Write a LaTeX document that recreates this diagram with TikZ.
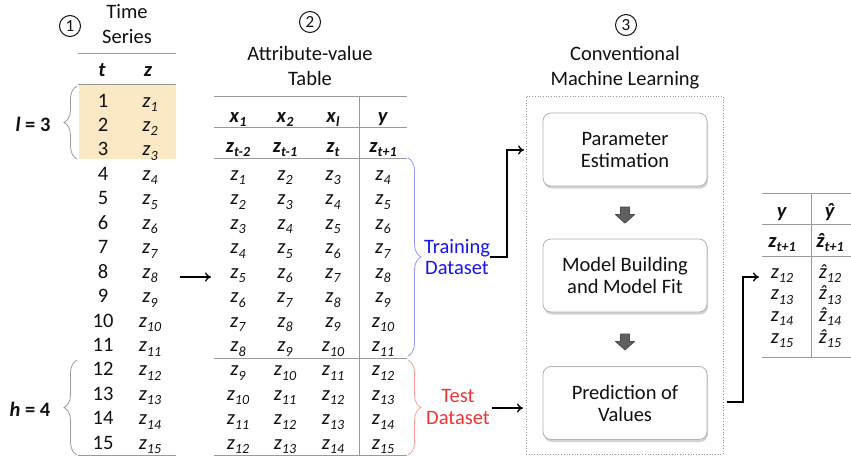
\documentclass[tikz,border=0pt]{standalone}
\usepackage{fontspec}
\setmainfont{Carlito}
\usetikzlibrary{decorations.pathreplacing,shadows,arrows.meta}
\definecolor{txt}{HTML}{111111}
\definecolor{rule}{HTML}{9A9A9A}
\definecolor{hlorange}{HTML}{FBE8C4}
\definecolor{tblue}{HTML}{1414F0}
\definecolor{tred}{HTML}{F03434}
\definecolor{bblue}{HTML}{9494FF}
\definecolor{bred}{HTML}{FF9A9A}
\newcommand\subfont{\fontsize{14}{14}\selectfont}
\newcommand\zi[1]{\textit{z}\raisebox{-4.5pt}{\subfont\textit{#1}}}
\newcommand\zb[1]{\textbf{\textit{z}\raisebox{-4.5pt}{\subfont\textit{#1}}}}
\newcommand\xb[1]{\textbf{\textit{x}\raisebox{-4.5pt}{\subfont\textit{#1}}}}
\newcommand\hatit[1]{\ooalign{\textit{#1}\cr\hidewidth\textit{\kern1pt\char"02C6}\hidewidth\cr}}
\newcommand\zh[1]{\hatit{z}\raisebox{-4.5pt}{\subfont\textit{#1}}}
\newcommand\zhb[1]{\textbf{\hatit{z}\raisebox{-4.5pt}{\subfont\textit{#1}}}}
\begin{document}
\begin{tikzpicture}[x=1pt,y=-1pt,
  txtn/.style={text=txt,font=\fontsize{20.5}{24}\selectfont,inner sep=0pt,anchor=base},
  ttl/.style={text=txt,font=\fontsize{20.5}{24}\selectfont,inner sep=0pt,anchor=base},
  rl/.style={draw=rule,line width=1pt},
  num/.style={circle,draw=txt,line width=1pt,minimum size=21pt,inner sep=0pt,text=txt,font=\fontsize{17}{17}\selectfont},
  gbrace/.style={draw=rule,line width=0.8pt,decorate,decoration={brace,amplitude=13pt}},
  arr/.style={-{To[length=6pt,width=9pt]},line width=1.3pt,black},
  stagebox/.style={rounded corners=8pt,draw=gray!60,fill=white,line width=0.8pt,
     drop shadow={shadow xshift=1pt,shadow yshift=-2.5pt,opacity=0.35},
     minimum width=164pt,minimum height=73pt,align=center,text=txt,
     font=\fontsize{20.5}{22}\selectfont},
  blk/.style={fill=gray!75!black,draw=black!70,line width=0.8pt,line join=round}]
\useasboundingbox (0,0) rectangle (851,456);
\fill[white] (0,0) rectangle (851,456);

% ---------- Table 1 ----------
\node[num] (c1) at (70,26) {1};
\node[ttl] (ts1) at (127,18) {Time};
\node[ttl] (ts2) at (127,43) {Series};
\fill[hlorange] (79,85) rectangle (176,159);
\draw[rl] (78,53) -- (176,53);
\draw[rl] (78,84.5) -- (176,84.5);
\draw[rl] (78,455) -- (176,455);
\node[txtn] (ht) at (102,76) {\textbf{\textit{t}}};
\node[txtn] (hz) at (148,76) {\textbf{\textit{z}}};
\foreach \i in {1,...,15}{
  \node[txtn] (t\i) at (103,{107+(\i-1)*24.45}) {\i};
  \node[txtn] (z\i) at (150,{107+(\i-1)*24.45}) {\zi{\i}};
}
\draw[gbrace] (77,159) -- (77,86);
\draw[gbrace] (77,455) -- (77,360);
\node[txtn] (lab) at (33,131) {\textbf{\textit{l} = 3}};
\node[txtn] (hab) at (30,416) {\textbf{\textit{h} = 4}};

% ---------- Table 2 ----------
\node[num] (c2) at (310,22) {2};
\node[ttl] (av1) at (310,60) {Attribute-value};
\node[ttl] (av2) at (310,85) {Table};
\foreach \yy in {96,127,158,358,455}{\draw[rl] (214,\yy) -- (407,\yy);}
\draw[rl] (359,96) -- (359,455);
\node[txtn] (hx1) at (238,122) {\xb{1}};
\node[txtn] (hx2) at (285,122) {\xb{2}};
\node[txtn] (hxl) at (333,122) {\xb{l}};
\node[txtn] (hy) at (383,122) {\textbf{\textit{y}}};
\node[txtn] (hz1) at (238,152) {\zb{t-2}};
\node[txtn] (hz2) at (285,152) {\zb{t-1}};
\node[txtn] (hz3) at (333,152) {\zb{t}};
\node[txtn] (hz4) at (383,152) {\zb{t+1}};
\foreach \j in {1,...,12}{
  \pgfmathtruncatemacro\ja{\j+1}
  \pgfmathtruncatemacro\jb{\j+2}
  \pgfmathtruncatemacro\jc{\j+3}
  \node[txtn] (a\j) at (238,{180.35+(\j-1)*24.45}) {\zi{\j}};
  \node[txtn] (b\j) at (285,{180.35+(\j-1)*24.45}) {\zi{\ja}};
  \node[txtn] (c\j) at (333,{180.35+(\j-1)*24.45}) {\zi{\jb}};
  \node[txtn] (d\j) at (383,{180.35+(\j-1)*24.45}) {\zi{\jc}};
}
\draw[draw=bblue,line width=0.8pt,decorate,decoration={brace,amplitude=13pt}] (408,158) -- (408,356);
\draw[draw=bred,line width=0.8pt,decorate,decoration={brace,amplitude=13pt}] (408,360) -- (408,455);
\node[txtn,text=tblue] (tr1) at (457,253) {Training};
\node[txtn,text=tblue] (tr2) at (457,274) {Dataset};
\node[txtn,text=tred] (te1) at (458,402) {Test};
\node[txtn,text=tred] (te2) at (458,424) {Dataset};

% ---------- Stage 3 ----------
\node[num] (c3) at (626,25) {3};
\node[ttl] (cv1) at (625,60) {Conventional};
\node[ttl] (cv2) at (625,85) {Machine Learning};
\node[draw=rule,dotted,line width=0.7pt,minimum width=197pt,minimum height=358pt,inner sep=0pt] (ml) at (624.5,275) {};
\node[stagebox] (pe) at (625,149.5) {Parameter\\Estimation};
\node[stagebox] (mb) at (625,275.5) {Model Building\\and Model Fit};
\node[stagebox] (pv) at (625,403) {Prediction of\\Values};
\path (pe.south) -- (mb.north) coordinate[pos=0.55] (m1);
\path (mb.south) -- (pv.north) coordinate[pos=0.55] (m2);
\draw[blk,shift={(m1)}] (-4.5,-8) -- (4.5,-8) -- (4.5,-0.5) -- (9.5,-0.5) -- (0,8) -- (-9.5,-0.5) -- (-4.5,-0.5) -- cycle;
\draw[blk,shift={(m2)}] (-4.5,-8) -- (4.5,-8) -- (4.5,-0.5) -- (9.5,-0.5) -- (0,8) -- (-9.5,-0.5) -- (-4.5,-0.5) -- cycle;

% ---------- Table 3 ----------
\draw[rl] (762,193) -- (851,193);
\draw[rl] (762,224) -- (851,224);
\draw[rl] (762,256) -- (851,256);
\draw[rl] (762,357) -- (851,357);
\draw[rl] (811,193) -- (811,357);
\node[txtn] (ry) at (782,217) {\textbf{\textit{y}}};
\node[txtn] (ryh) at (830,217) {\textbf{\hatit{y}}};
\node[txtn] (rz) at (782,247) {\zb{t+1}};
\node[txtn] (rzh) at (830,247) {\zhb{t+1}};
\foreach \k/\yy in {12/278,13/299.7,14/321.4,15/343}{
  \node[txtn] (r\k) at (782,\yy) {\zi{\k}};
  \node[txtn] (rh\k) at (830,\yy) {\zh{\k}};
}

% ---------- connectors ----------
\coordinate (p1) at (180,277);
\coordinate (p2) at (211,277);
\draw[arr] (p1) -- (p2);
\coordinate (q1) at (490,257);
\coordinate (q2) at (524,150);
\draw[arr] (q1) -- (507,257) |- (q2);
\coordinate (s1) at (492,408);
\coordinate (s2) at (523,408);
\draw[arr] (s1) -- (s2);
\coordinate (u1) at (727,402);
\coordinate (u2) at (759,277);
\draw[arr] (u1) -- (743,402) |- (u2);
\end{tikzpicture}
\end{document}
